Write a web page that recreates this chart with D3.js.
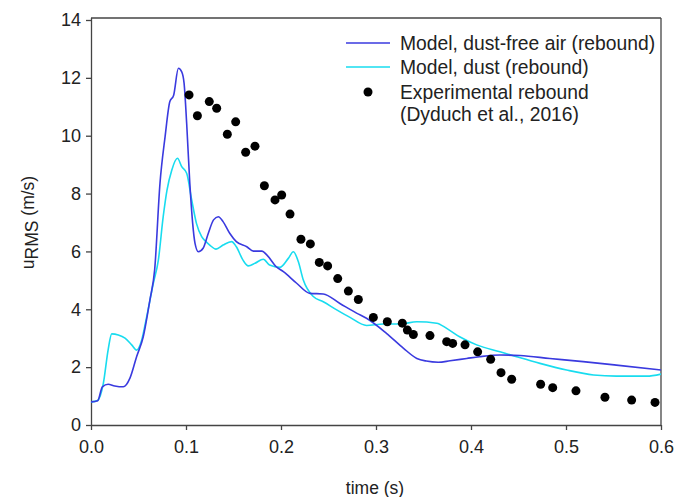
<!DOCTYPE html>
<html>
<head>
<meta charset="utf-8">
<script src="https://cdn.jsdelivr.net/npm/d3@7"></script>
<style>
  html, body { margin: 0; padding: 0; background: #fff; }
  svg { display: block; font-family: Arial, "Liberation Sans", sans-serif; }
</style>
</head>
<body>
<svg id="chart" width="688" height="497"></svg>
<script>
// ---- data ----
const xTicks = [0.0, 0.1, 0.2, 0.3, 0.4, 0.5, 0.6];
const yTicks = [0, 2, 4, 6, 8, 10, 12, 14];

const dustFreeT = [0.0, 0.007, 0.012, 0.018, 0.025, 0.034, 0.041, 0.048, 0.055, 0.062, 0.067, 0.0726, 0.078, 0.083, 0.087, 0.092, 0.0955, 0.098, 0.1007, 0.104, 0.1095, 0.113, 0.118, 0.1235, 0.129, 0.134, 0.139, 0.146, 0.153, 0.164, 0.171, 0.18, 0.185, 0.195, 0.2025, 0.2165, 0.2305, 0.2445, 0.262, 0.28, 0.29, 0.311, 0.329, 0.343, 0.353, 0.3656, 0.378, 0.3955, 0.409, 0.4305, 0.4516, 0.483, 0.518, 0.553, 0.6];
const dustFreeU = [0.8, 0.84, 1.32, 1.41, 1.35, 1.32, 1.62, 2.36, 3.05, 4.32, 5.36, 8.35, 9.97, 11.18, 11.4, 12.33, 12.21, 11.81, 10.43, 8.36, 6.28, 5.99, 6.11, 6.63, 7.09, 7.2, 7.03, 6.63, 6.34, 6.16, 6.01, 6.01, 5.88, 5.47, 5.3, 4.9, 4.55, 4.53, 4.2, 3.86, 3.69, 3.17, 2.65, 2.3, 2.21, 2.17, 2.22, 2.3, 2.36, 2.42, 2.4, 2.3, 2.19, 2.07, 1.9];

const dustT = [0.0, 0.007, 0.013, 0.018, 0.0218, 0.0288, 0.0358, 0.0428, 0.048, 0.0534, 0.0586, 0.0656, 0.0709, 0.076, 0.08, 0.085, 0.091, 0.0955, 0.1007, 0.106, 0.111, 0.1165, 0.121, 0.125, 0.1316, 0.139, 0.148, 0.153, 0.16, 0.1656, 0.1726, 0.1814, 0.188, 0.199, 0.2077, 0.213, 0.2182, 0.2235, 0.234, 0.2445, 0.2586, 0.2726, 0.29, 0.3077, 0.3253, 0.343, 0.3639, 0.3744, 0.388, 0.406, 0.4305, 0.448, 0.4726, 0.5007, 0.529, 0.553, 0.585, 0.6];
const dustU = [0.8, 0.85, 1.44, 2.59, 3.15, 3.11, 3.0, 2.77, 2.59, 2.94, 3.74, 4.9, 5.7, 7.2, 8.12, 8.81, 9.22, 8.93, 8.7, 7.78, 6.97, 6.51, 6.34, 6.22, 6.08, 6.22, 6.34, 6.16, 5.7, 5.5, 5.59, 5.73, 5.53, 5.45, 5.76, 5.99, 5.65, 5.01, 4.44, 4.26, 3.98, 3.72, 3.44, 3.49, 3.49, 3.57, 3.52, 3.34, 3.05, 2.77, 2.53, 2.36, 2.13, 1.9, 1.73, 1.69, 1.69, 1.76];

const expT = [0.1032, 0.112, 0.1245, 0.1323, 0.1435, 0.1523, 0.1628, 0.1726, 0.1825, 0.1937, 0.2007, 0.2095, 0.221, 0.2309, 0.2403, 0.2491, 0.2597, 0.2709, 0.2814, 0.2972, 0.3119, 0.3277, 0.333, 0.3393, 0.3568, 0.3744, 0.3807, 0.3937, 0.407, 0.4207, 0.4316, 0.4428, 0.4733, 0.486, 0.5105, 0.541, 0.5691, 0.5937];
const expU = [11.41, 10.69, 11.18, 10.95, 10.05, 10.48, 9.43, 9.64, 8.27, 7.78, 7.95, 7.29, 6.42, 6.26, 5.62, 5.5, 5.06, 4.63, 4.34, 3.72, 3.57, 3.52, 3.28, 3.13, 3.09, 2.88, 2.82, 2.77, 2.53, 2.27, 1.81, 1.58, 1.41, 1.29, 1.18, 0.96, 0.86, 0.78];

const seriesNames = ["Model, dust-free air (rebound)", "Model, dust (rebound)", "Experimental rebound", "(Dyduch et al., 2016)"];

// ---- layout ----
const svg = d3.select("#chart");
const pLeft = 91, pRight = 661, pTop = 18, pBottom = 425;
const x = d3.scaleLinear().domain([0, 0.6]).range([pLeft, pRight]);
const y = d3.scaleLinear().domain([0, 14]).range([pBottom, 20]);

const axisColor = "#444";
const textColor = "#222";
const blue = "#3a3adf";
const cyan = "#18dcef";

// frame (top & right)
svg.append("line").attr("x1", pLeft).attr("x2", pRight).attr("y1", pTop).attr("y2", pTop)
  .attr("stroke", axisColor).attr("stroke-width", 1.3);
svg.append("line").attr("x1", pRight).attr("x2", pRight).attr("y1", pTop).attr("y2", pBottom)
  .attr("stroke", axisColor).attr("stroke-width", 1.3);

// axes
const xAxis = d3.axisBottom(x).tickValues(xTicks).tickFormat(d3.format(".1f")).tickSize(5).tickPadding(10);
const yAxis = d3.axisLeft(y).tickValues(yTicks).tickFormat(d3.format("d")).tickSize(5).tickPadding(5);

const gx = svg.append("g").attr("transform", `translate(0,${pBottom})`).call(xAxis);
gx.select(".domain").attr("d", `M${pLeft},0.5H${pRight}`).attr("stroke", axisColor).attr("stroke-width", 1.3);
const gy = svg.append("g").attr("transform", `translate(${pLeft},0)`).call(yAxis);
gy.select(".domain").attr("d", `M0.5,${pTop}V${pBottom}`).attr("stroke", axisColor).attr("stroke-width", 1.3);

[gx, gy].forEach(g => {
  g.selectAll(".tick line").attr("stroke", axisColor).attr("stroke-width", 1.3);
  g.selectAll(".tick text").attr("fill", textColor).style("font-size", "18px").style("font-family", "Arial, 'Liberation Sans', sans-serif");
});

// axis titles
svg.append("text").attr("x", (pLeft + pRight) / 2 - 1).attr("y", 494).attr("text-anchor", "middle")
  .attr("fill", textColor).style("font-size", "17.5px").text("time (s)");

const yl = svg.append("text").attr("transform", `translate(34,${(20 + pBottom) / 2}) rotate(-90)`)
  .attr("text-anchor", "middle").attr("fill", textColor).style("font-size", "17.5px");
yl.append("tspan").text("u");
yl.append("tspan").attr("dy", 4).text("RMS");
yl.append("tspan").attr("dy", -4).text(" (m/s)");

// lines
const line = d3.line().curve(d3.curveMonotoneX);
svg.append("clipPath").attr("id", "clip").append("rect")
  .attr("x", pLeft).attr("y", pTop).attr("width", pRight - pLeft).attr("height", pBottom - pTop);

svg.append("path").datum(d3.zip(dustT, dustU))
  .attr("d", line.x(d => x(d[0])).y(d => y(d[1])))
  .attr("fill", "none").attr("stroke", cyan).attr("stroke-width", 1.6).attr("clip-path", "url(#clip)");

svg.append("path").datum(d3.zip(dustFreeT, dustFreeU))
  .attr("d", line.x(d => x(d[0])).y(d => y(d[1])))
  .attr("fill", "none").attr("stroke", blue).attr("stroke-width", 1.6).attr("clip-path", "url(#clip)");

// experimental points
svg.append("g").selectAll("circle").data(d3.zip(expT, expU)).join("circle")
  .attr("cx", d => x(d[0])).attr("cy", d => y(d[1])).attr("r", 4.5).attr("fill", "#000");

// legend
const lg = svg.append("g").style("font-size", "19.3px").attr("fill", textColor);
const ly = [43, 67, 92, 114];
lg.append("line").attr("x1", 346).attr("x2", 390).attr("y1", ly[0]).attr("y2", ly[0]).attr("stroke", blue).attr("stroke-width", 1.6);
lg.append("line").attr("x1", 346).attr("x2", 390).attr("y1", ly[1]).attr("y2", ly[1]).attr("stroke", cyan).attr("stroke-width", 1.6);
lg.append("circle").attr("cx", 368).attr("cy", ly[2]).attr("r", 4.5).attr("fill", "#000");
seriesNames.forEach((s, i) => {
  lg.append("text").attr("x", 400).attr("y", ly[i]).attr("dy", "0.35em").text(s);
});
</script>
</body>
</html>
